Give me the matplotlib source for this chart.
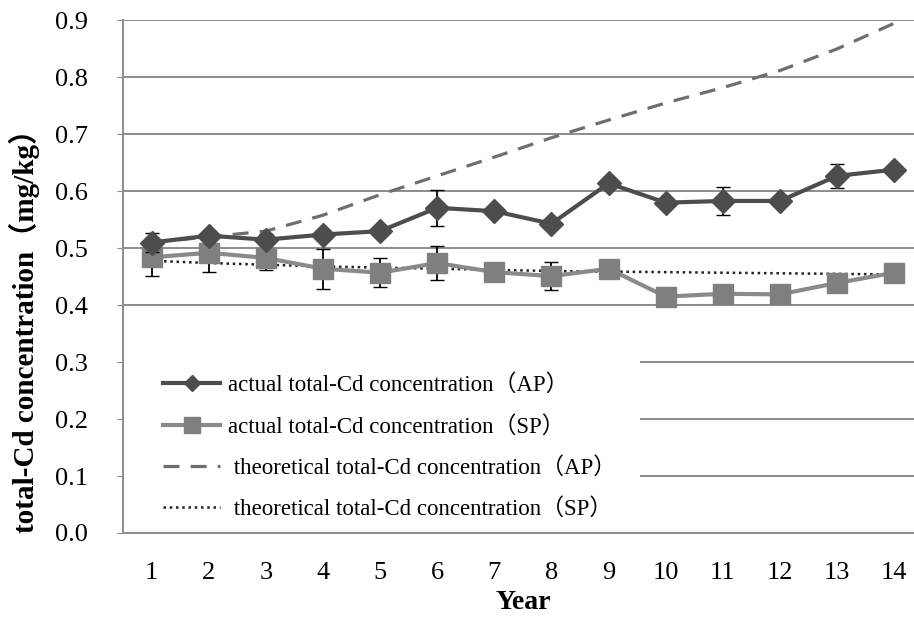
import matplotlib
matplotlib.use("Agg")
import matplotlib.pyplot as plt
from matplotlib.lines import Line2D
from matplotlib.patches import Rectangle

plt.rcParams['font.family'] = ['Liberation Serif', 'Noto Sans CJK SC']

# data
years = list(range(1, 15))
ap_actual = [0.510, 0.522, 0.515, 0.524, 0.530, 0.571, 0.565, 0.543, 0.614, 0.580, 0.583, 0.583, 0.627, 0.638]
ap_err = [0.017, 0.008, 0.010, 0.008, 0.006, 0.032, 0.006, 0.006, 0.008, 0.006, 0.025, 0.006, 0.021, 0.006]
sp_actual = [0.484, 0.492, 0.483, 0.464, 0.457, 0.474, 0.458, 0.451, 0.464, 0.415, 0.420, 0.419, 0.439, 0.457]
sp_err = [0.032, 0.034, 0.022, 0.035, 0.025, 0.030, 0.006, 0.024, 0.008, 0.006, 0.006, 0.006, 0.006, 0.006]
ap_theory = [0.510, 0.520, 0.530, 0.558, 0.594, 0.627, 0.660, 0.694, 0.725, 0.755, 0.782, 0.812, 0.850, 0.895]
sp_theory = [0.478, 0.474, 0.471, 0.468, 0.466, 0.464, 0.462, 0.460, 0.459, 0.458, 0.457, 0.456, 0.455, 0.454]

yticks = [0.0, 0.1, 0.2, 0.3, 0.4, 0.5, 0.6, 0.7, 0.8, 0.9]
labels = ['actual total-Cd concentration（AP）',
          'actual total-Cd concentration（SP）',
          ' theoretical total-Cd concentration（AP）',
          ' theoretical total-Cd concentration（SP）']

ap_col = '#4d4d4d'
sp_col = '#8a8a8a'
grid_col = '#8c8c8c'

fig = plt.figure(figsize=(9.14, 6.19), dpi=100)
ax = fig.add_axes([0.1346, 0.139, 0.875, 0.828])

# gridlines
for v in yticks[1:]:
    ax.axhline(v, color=grid_col, lw=1.4, zorder=0)
# white area behind the legend (hides the gridlines there)
ax.add_patch(Rectangle((0, 0), 0.646, 0.355, transform=ax.transAxes,
                       facecolor='white', edgecolor='none', zorder=1))

ax.errorbar(years, sp_actual, yerr=sp_err, color=sp_col, lw=3, marker='s', ms=15,
            mfc='#7f7f7f', mec='#7f7f7f', ecolor='black', elinewidth=1.3, capsize=5, zorder=3)
ax.errorbar(years, ap_actual, yerr=ap_err, color=ap_col, lw=3, marker='D', ms=12.5,
            mfc=ap_col, mec=ap_col, ecolor='black', elinewidth=1.3, capsize=5, zorder=4)
ax.plot(years, ap_theory, color='#6e6e6e', lw=2.3, ls=(0, (5, 3.5)), zorder=2)
ax.plot(years, sp_theory, color='#222222', lw=1.8, ls=(0, (1, 1.5)), zorder=2)

ax.set_xlim(0.5, 14.5)
ax.set_ylim(0, 0.9)
ax.set_yticks(yticks)
ax.set_yticklabels(['%.1f' % v for v in yticks])
ax.set_xticks(years)
ax.tick_params(axis='y', labelsize=19, length=4, color=grid_col, pad=21)
ax.tick_params(axis='x', labelsize=19, length=0, pad=21)

for s in ['top', 'right']:
    ax.spines[s].set_visible(False)
for s in ['left', 'bottom']:
    ax.spines[s].set_color(grid_col)
    ax.spines[s].set_linewidth(1.4)

ax.set_xlabel('Year', fontsize=20, fontweight='bold', labelpad=4)
ax.set_ylabel('total-Cd concentration（mg/kg）', fontsize=21, fontweight='bold')
ax.yaxis.set_label_coords(-0.104, 0.408)

handles = [
    Line2D([], [], color=ap_col, lw=3, marker='D', ms=8),
    Line2D([], [], color=sp_col, lw=3, marker='s', ms=12, mfc='#7f7f7f', mec='#7f7f7f'),
    Line2D([], [], color='#6e6e6e', lw=2.3, ls=(0, (5, 3.5))),
    Line2D([], [], color='#222222', lw=1.8, ls=(0, (1, 1.5))),
]
leg = ax.legend(handles, labels, loc='lower left', bbox_to_anchor=(0.05, 0.025),
                fontsize=16.5, frameon=False, handlelength=2.5, handletextpad=0.35,
                labelspacing=0.85, borderpad=0, borderaxespad=0)
leg.set_zorder(5)

fig.savefig('out.png', dpi=100)
